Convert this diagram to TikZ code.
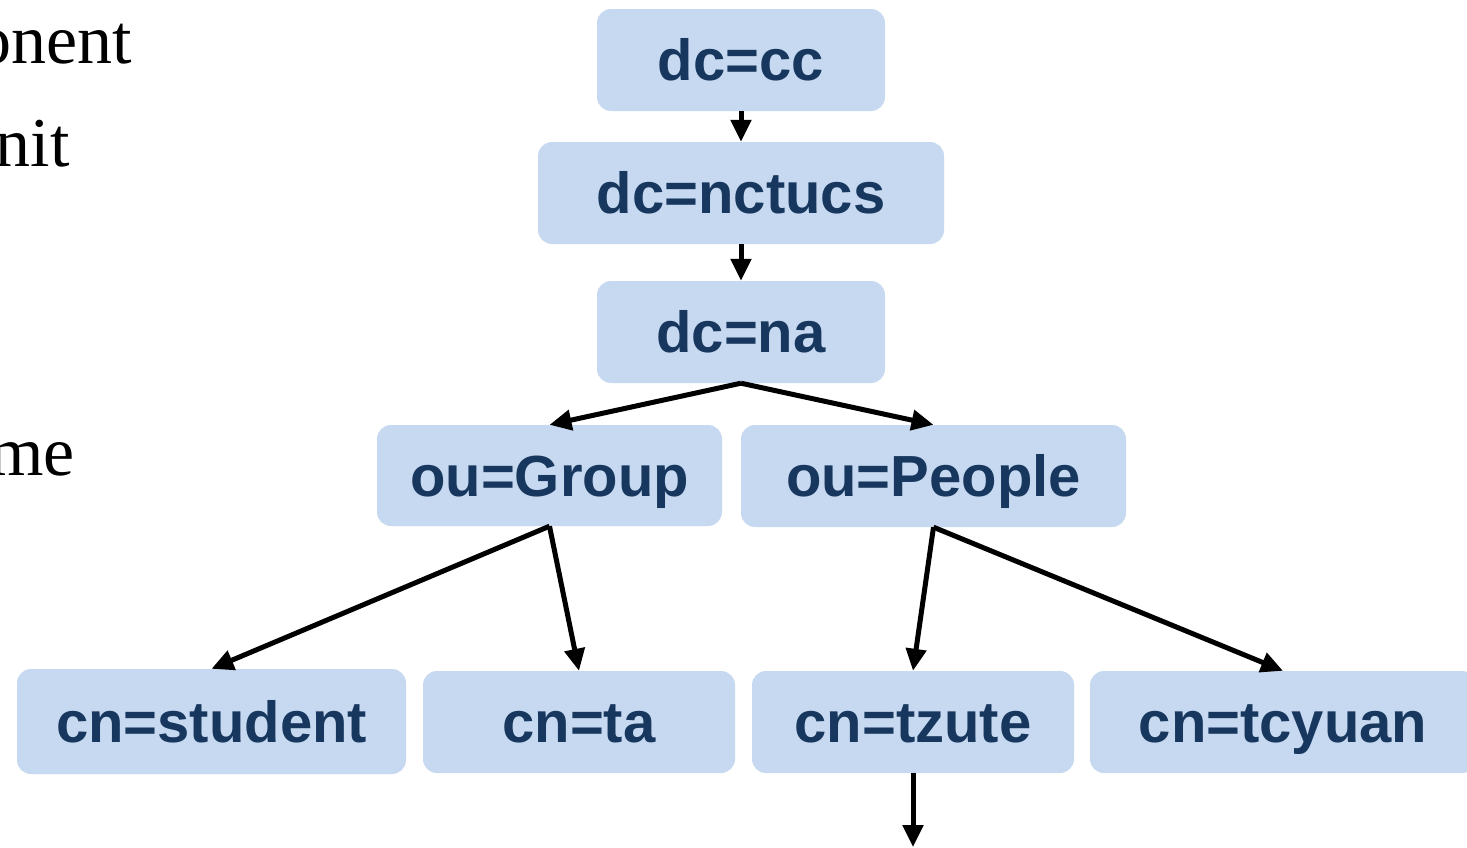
\documentclass[tikz,border=0pt]{standalone}
\usepackage{fontspec}
\setmainfont{Liberation Serif}
\newfontfamily\boxfont{Liberation Sans}
\usetikzlibrary{arrows.meta}
\definecolor{boxfill}{HTML}{C6D9F0}
\definecolor{boxtext}{HTML}{17375E}
\begin{document}
\begin{tikzpicture}[x=1pt,y=-1pt,
  box/.style={draw=none, fill=boxfill, rounded corners=14pt, inner sep=0pt,
    font=\boxfont\bfseries\fontsize{58}{60}\selectfont, text=boxtext,
    text height=41.5pt, text depth=0pt, minimum height=102pt},
  conn/.style={line width=5pt, -{Triangle[length=22pt,width=20pt]}},
  side/.style={font=\fontsize{70}{80}\selectfont, inner sep=0pt, anchor=base east}]
\useasboundingbox (0,0) rectangle (1467,847);
\clip (0,0) rectangle (1467,847);
\fill[white] (0,0) rectangle (1467,847);
% left text fragments
\node[side] (t1) at (132,63) {onent};
\node[side] (t2) at (70,166) {nit};
\node[side] (t3) at (75,475) {me};
% boxes
\node[box, minimum width=288pt] (cc) at (741,60) {dc=cc};
\node[box, minimum width=406pt] (nctucs) at (741,193) {dc=nctucs};
\node[box, minimum width=288pt] (na) at (741,332) {dc=na};
\node[box, minimum width=345pt, minimum height=101pt] (group) at (549.5,475.5) {ou=Group};
\node[box, minimum width=385pt] (people) at (933.5,476) {ou=People};
\node[box, minimum width=389pt, minimum height=105pt] (student) at (211.5,721.5) {cn=student};
\node[box, minimum width=312pt] (ta) at (579,722) {cn=ta};
\node[box, minimum width=322pt] (tzute) at (913,722) {cn=tzute};
\node[box, minimum width=386pt] (tcyuan) at (1283,722) {cn=tcyuan};
\coordinate (tzend) at (913,847);
% connectors
\draw[conn] (cc.south) -- (nctucs.north);
\draw[conn] (nctucs.south) -- (na.north);
\draw[conn] (na.south) -- (group.north);
\draw[conn] (na.south) -- (people.north);
\draw[conn] (group.south) -- (student.north);
\draw[conn] (group.south) -- (ta.north);
\draw[conn] (people.south) -- (tzute.north);
\draw[conn] (people.south) -- (tcyuan.north);
\draw[conn] (tzute.south) -- (tzend);
\end{tikzpicture}
\end{document}
